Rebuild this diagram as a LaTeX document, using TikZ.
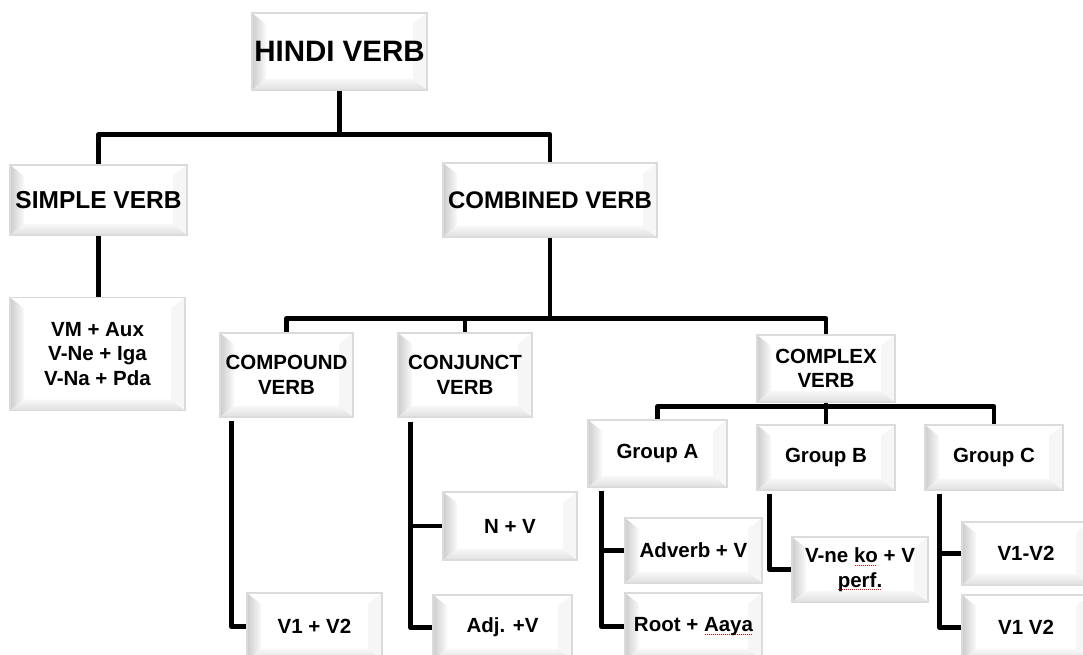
\documentclass[tikz,border=0pt]{standalone}
\usepackage{fontspec}
\setmainfont{Liberation Sans}
\usetikzlibrary{calc}
\newcommand\sqred[1]{\leavevmode\setbox0=\hbox{#1}\rlap{\raisebox{-3pt}{\textcolor{red}{\hbox to \wd0{\leaders\hbox to 2pt{\hss\vrule width 1pt height 0.8pt\hss}\hfill}}}}\box0\relax}
\tikzset{
  vbox/.style={draw=gray!28, line width=1.3pt, inner sep=0pt, align=center,
    font=\bfseries\fontsize{20.5}{24.5}\selectfont, text=black,
    path picture={
      \coordinate (pSW) at (path picture bounding box.south west);
      \coordinate (pNE) at (path picture bounding box.north east);
      \coordinate (pNW) at (path picture bounding box.north west);
      \coordinate (pSE) at (path picture bounding box.south east);
      \fill[white] (pSW) rectangle (pNE);
      \shade[left color=gray!40, right color=gray!4]
        (pSW) -- (pNW) -- ([shift={(14pt,-11pt)}]pNW) -- ([shift={(14pt,11pt)}]pSW) -- cycle;
      \shade[top color=gray!6, bottom color=gray!25]
        (pSW) -- ([shift={(14pt,11pt)}]pSW) -- ([shift={(-14pt,11pt)}]pSE) -- (pSE) -- cycle;
      \fill[gray!7]
        (pSE) -- ([shift={(-14pt,11pt)}]pSE) -- ([shift={(-14pt,-11pt)}]pNE) -- (pNE) -- cycle;
    }},
  conn/.style={line width=4.8pt, line join=round, black}
}
\begin{document}
\begin{tikzpicture}[x=1pt,y=-1pt]
\useasboundingbox (0,0) rectangle (1083,655);

% boxes
\node[vbox, minimum width=175pt, minimum height=77pt, font=\bfseries\fontsize{29.5}{32}\selectfont] (hindi) at (339.5,51.5) {HINDI VERB};
\node[vbox, minimum width=177pt, minimum height=70pt, font=\bfseries\fontsize{24.5}{27}\selectfont] (simple) at (98.5,200) {SIMPLE VERB};
\node[vbox, minimum width=214pt, minimum height=74pt, font=\bfseries\fontsize{24}{27}\selectfont] (combined) at (550,200) {COMBINED VERB};
\node[vbox, minimum width=175pt, minimum height=113pt] (vm) at (97.5,354) {VM + Aux\\V-Ne + Iga\\V-Na + Pda};
\node[vbox, minimum width=133pt, minimum height=84pt] (compound) at (286.5,375) {COMPOUND\\VERB};
\node[vbox, minimum width=134pt, minimum height=84pt] (conjunct) at (465,375) {CONJUNCT\\VERB};
\node[vbox, minimum width=138pt, minimum height=67pt] (complex) at (826,368.5) {COMPLEX\\VERB};
\node[vbox, minimum width=139pt, minimum height=67pt] (groupA) at (657.5,453.5) {Group A};
\node[vbox, minimum width=138pt, minimum height=65pt] (groupB) at (826,457.5) {Group B};
\node[vbox, minimum width=138pt, minimum height=65pt] (groupC) at (994,457.5) {Group C};
\node[vbox, minimum width=135pt, minimum height=67pt] (v1v2) at (314.5,626.5) {V1 + V2};
\node[vbox, minimum width=134pt, minimum height=68pt] (nv) at (510,526) {N + V};
\node[vbox, minimum width=139pt, minimum height=65pt] (adjv) at (502.5,627.5) {Adj. +V};
\node[vbox, minimum width=137pt, minimum height=65pt] (adverb) at (693.5,550.5) {Adverb + V};
\node[vbox, minimum width=137pt, minimum height=67pt] (root) at (693.5,626.5) {Root + \sqred{Aaya}};
\node[vbox, minimum width=136pt, minimum height=65pt] (vne) at (860,569.5) {V-ne \sqred{ko} + V\\\sqred{perf.}};
\node[vbox, minimum width=128pt, minimum height=63pt] (vdash) at (1026,553.5) {V1-V2};
\node[vbox, minimum width=128pt, minimum height=65pt] (vspace) at (1026,627.5) {V1 V2};

% connectors
\draw[conn] (hindi.south) -- ++(0,44) coordinate (hj) -| (simple.north);
\draw[conn] (hj) -| (combined.north);
\draw[conn] (simple.south) -- (simple.south |- vm.north);
\draw[conn] (combined.south) -- ++(0,81) coordinate (cj) -| (compound.north);
\draw[conn] (cj) -| (conjunct.north);
\draw[conn] (cj) -| (complex.north);
\draw[conn] (complex.south) -- ++(0,4) coordinate (xj) -| (groupA.north);
\draw[conn] (xj) -| (groupB.north);
\draw[conn] (xj) -| (groupC.north);

\draw[conn] ([shift={(12pt,-3pt)}]compound.south west) |- (v1v2.west);
\draw[conn] ([shift={(13pt,-4pt)}]conjunct.south west) |- (nv.west);
\draw[conn] ([shift={(13pt,-4pt)}]conjunct.south west) |- (adjv.west);
\draw[conn] ([shift={(14pt,-3pt)}]groupA.south west) |- (adverb.west);
\draw[conn] ([shift={(14pt,-3pt)}]groupA.south west) |- (root.west);
\draw[conn] ([shift={(13pt,-3pt)}]groupB.south west) |- (vne.west);
\draw[conn] ([shift={(15pt,-3pt)}]groupC.south west) |- (vdash.west);
\draw[conn] ([shift={(15pt,-3pt)}]groupC.south west) |- (vspace.west);
\end{tikzpicture}
\end{document}
